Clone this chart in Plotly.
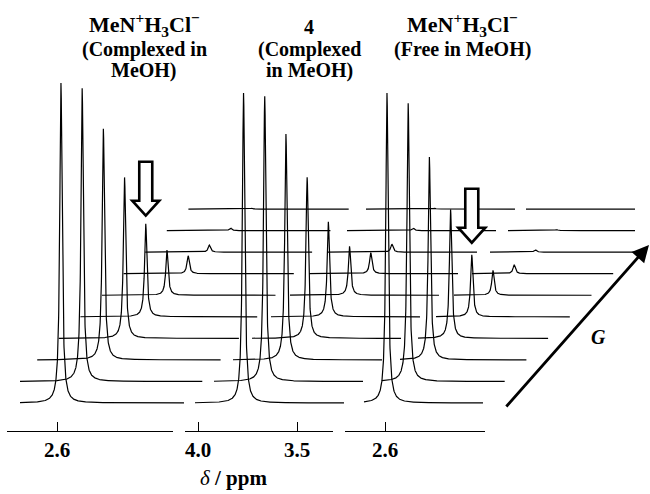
import numpy as np
import plotly.graph_objects as go

# ---------------------------------------------------------------- data
# ten 1H spectra recorded at increasing gradient strength G (front -> back)
gradient_step = list(range(10))

# signal followed in each spectral window (ppm)
signal_ppm = [2.58, 3.77, 2.59]

# peak intensities per gradient step (front spectrum of window 1 = 100)
amine_complexed = [100.0, 91.6, 72.2, 50.3, 29.1, 14.1, 5.6, 2.2, 0.8, 0.25]
host_complexed = [96.9, 89.1, 70.6, 50.3, 29.7, 15.3, 6.6, 2.5, 0.8, 0.25]
amine_free = [96.9, 86.9, 63.4, 40.3, 19.4, 7.8, 2.8, 0.75, 0.3, 0.1]
window_heights = [amine_complexed, host_complexed, amine_free]

linewidth_ppm = 0.0071  # Lorentzian half width at half height

tick_values = [[2.6], [4.0, 3.5], [2.6]]
tick_labels = [["2.6"], ["4.0", "3.5"], ["2.6"]]

window_titles = [
    ["MeN<sup>+</sup>H<sub>3</sub>Cl<sup>−</sup>", "(Complexed in", "MeOH)"],
    ["4", "(Complexed", "in MeOH)"],
    ["MeN<sup>+</sup>H<sub>3</sub>Cl<sup>−</sup>", "(Free in MeOH)"],
]

# ---------------------------------------------------------------- geometry
W, H = 650, 494
PX_PER_PPM = 198.0
tick_anchor = [(2.6, 57.0), (4.0, 198.0), (2.6, 385.0)]  # reference tick (ppm, px)
ROW_DX = 21.2        # each spectrum moves right by this many px
ROW_DY = 21.55       # ... and up by this many px
BASE_PX = 403.0      # baseline of the front spectrum
PX_PER_UNIT = 3.2    # vertical scale (px per intensity unit)
AXIS_PX = 431.0      # ppm scale line
CLIP = (20.0, 635.0)
# window edges for the front spectrum and their drift per row (px)
window_edges = [((-6.0, 21.6), (184.0, 18.3)),
                ((195.0, 19.0), (344.0, 19.0)),
                ((364.0, 18.0), (483.0, 21.7))]
# ppm scale segments (px)
scale_segments = [(7.0, 173.0), (185.0, 333.0), (345.0, 485.0)]

ROW_OFF = ROW_DY / PX_PER_UNIT
FONT = "Liberation Serif"
XREFS = ["x", "x2", "x3"]


def px_to_ppm(p, px):
    ppm0, px0 = tick_anchor[p]
    return ppm0 - (px - px0) / PX_PER_PPM


def lorentz(ppm, centre, height):
    return height / (1.0 + ((ppm - centre) / linewidth_ppm) ** 2)


fig = go.Figure()

# stacked spectra
for p in range(3):
    (s0, sd), (e0, ed) = window_edges[p]
    heights = window_heights[p]
    for i in gradient_step:
        lo_px = max(CLIP[0], s0 + sd * i)
        hi_px = min(CLIP[1], e0 + ed * i)
        if hi_px <= lo_px:
            continue
        a, b = px_to_ppm(p, lo_px), px_to_ppm(p, hi_px)
        shift = i * ROW_DX / PX_PER_PPM
        disp = np.linspace(a, b, int((hi_px - lo_px) / 0.12) + 2)
        c_disp = signal_ppm[p] - shift
        if b < c_disp < a:
            disp = np.sort(np.append(disp, c_disp))[::-1]
        y = i * ROW_OFF + lorentz(disp + shift, signal_ppm[p], heights[i])
        fig.add_trace(go.Scatter(
            x=disp, y=y, xaxis=XREFS[p], yaxis="y", mode="lines",
            line=dict(color="black", width=1.2),
            hoverinfo="skip", showlegend=False))

# carriers for the three ppm scale segments (markers are transparent)
for p in range(3):
    fig.add_trace(go.Scatter(
        x=tick_values[p], y=[0.5] * len(tick_values[p]),
        xaxis=f"x{p + 4}", yaxis="y2", mode="markers",
        marker=dict(opacity=0, size=1), hoverinfo="skip", showlegend=False))


# hollow arrows marking the row-4 signal
def hollow_arrow(p, row, gap_px):
    shift = row * ROW_DX / PX_PER_PPM
    xt = signal_ppm[p] - shift
    yt = row * ROW_OFF + window_heights[p][row] + gap_px / PX_PER_UNIT
    outline = [(-6.5, 54), (6.5, 54), (6.5, 15), (13.5, 15), (0, 0),
               (-13.5, 15), (-6.5, 15)]
    pts = [f"{xt - dx / PX_PER_PPM:.5f},{yt + dy / PX_PER_UNIT:.4f}"
           for dx, dy in outline]
    return dict(type="path", xref=XREFS[p], yref="y",
                path="M " + " L ".join(pts) + " Z",
                line=dict(color="black", width=2.6), fillcolor="white",
                layer="above")


shapes = [hollow_arrow(0, 4, 8), hollow_arrow(2, 4, 12)]

annotations = []
title_pos = [(144, [25, 50, 71]), (309, [27, 50, 71]), (462, [25, 50])]
for lines, (cx, ys) in zip(window_titles, title_pos):
    for k, (txt, cy) in enumerate(zip(lines, ys)):
        size = 22 if (k == 0 and "<sup>" in txt) else 20
        annotations.append(dict(
            text=f"<b>{txt}</b>", x=cx / W, y=1 - cy / H, xref="paper",
            yref="paper", showarrow=False, xanchor="center", yanchor="middle",
            font=dict(family=FONT, size=size, color="black")))

annotations.append(dict(
    text="<i>δ</i><b> / ppm</b>", x=233 / W, y=1 - 478 / H, xref="paper",
    yref="paper", showarrow=False, xanchor="center", yanchor="middle",
    font=dict(family=FONT, size=21, color="black")))

# gradient direction
annotations.append(dict(
    text="", x=649 / W, y=1 - 245 / H, xref="paper", yref="paper",
    ax=-144, ay=163, showarrow=True, arrowhead=2, arrowsize=1.2,
    arrowwidth=2.8, arrowcolor="black", standoff=0))
annotations.append(dict(
    text="<b><i>G</i></b>", x=598 / W, y=1 - 337 / H, xref="paper",
    yref="paper", showarrow=False, xanchor="center", yanchor="middle",
    font=dict(family=FONT, size=20, color="black")))

axis_pos = (H - AXIS_PX) / H
layout = dict(
    width=W, height=H, margin=dict(l=0, r=0, t=0, b=0),
    paper_bgcolor="white", plot_bgcolor="rgba(0,0,0,0)",
    showlegend=False, shapes=shapes, annotations=annotations,
    yaxis=dict(range=[(BASE_PX - H) / PX_PER_UNIT, BASE_PX / PX_PER_UNIT],
               domain=[0, 1], visible=False, fixedrange=True),
    yaxis2=dict(range=[0, 1], domain=[axis_pos, axis_pos + 0.02],
                visible=False, fixedrange=True),
)

for p in range(3):
    key = "xaxis" if p == 0 else f"xaxis{p + 1}"
    ax = dict(range=[px_to_ppm(p, 0), px_to_ppm(p, W)], domain=[0, 1],
              visible=False, fixedrange=True)
    if p > 0:
        ax.update(overlaying="x", anchor="y")
    layout[key] = ax

    # ppm scale segment for this window
    l_px, r_px = scale_segments[p]
    layout[f"xaxis{p + 4}"] = dict(
        domain=[l_px / W, r_px / W],
        range=[px_to_ppm(p, l_px), px_to_ppm(p, r_px)],
        anchor="y2", side="bottom",
        showline=True, linecolor="black", linewidth=1.3,
        ticks="inside", ticklen=9, tickwidth=1.3, tickcolor="black",
        tickmode="array", tickvals=tick_values[p], ticktext=tick_labels[p],
        tickfont=dict(family=FONT, size=21, color="black", weight="bold"),
        showgrid=False, zeroline=False, fixedrange=True)

fig.update_layout(**layout)
fig.write_html("out.html")
